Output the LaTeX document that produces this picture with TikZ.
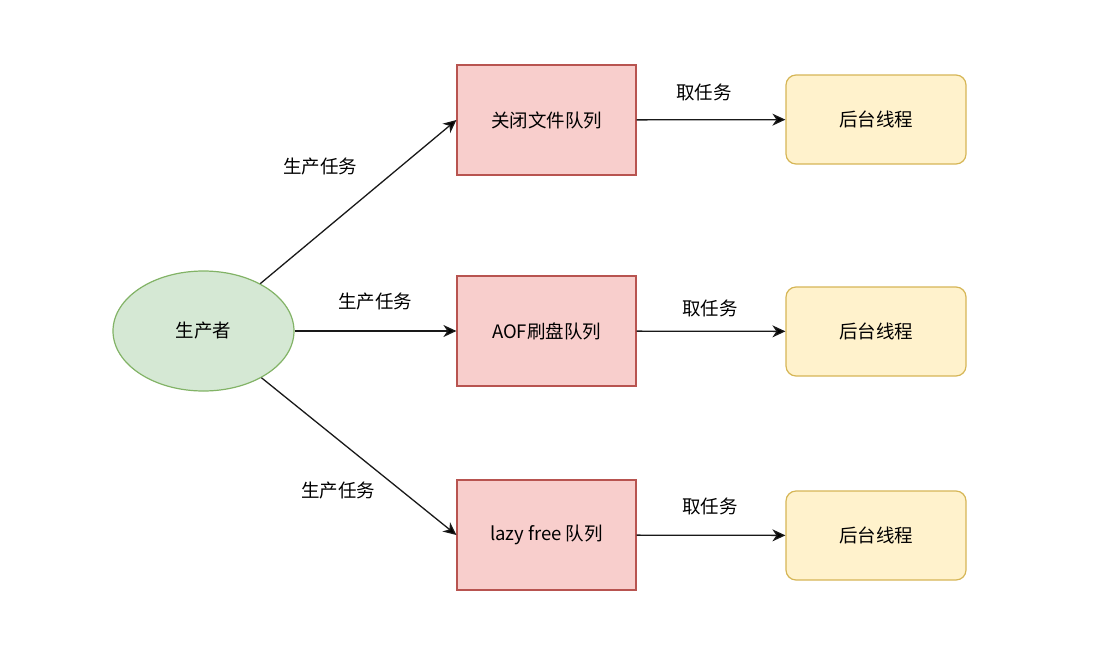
\documentclass[tikz,border=0pt]{standalone}
\usepackage{fontspec}
\setmainfont{Noto Sans CJK SC}
\usetikzlibrary{shapes}
\usetikzlibrary{positioning}
\usetikzlibrary{arrows.meta}
\definecolor{prodfill}{HTML}{D5E8D4}
\definecolor{proddraw}{HTML}{82B366}
\definecolor{queuefill}{HTML}{F8CECC}
\definecolor{queuedraw}{HTML}{B85450}
\definecolor{workfill}{HTML}{FFF2CC}
\definecolor{workdraw}{HTML}{D6B656}
\tikzset{
    producer/.style = {ellipse, draw=proddraw, fill=prodfill, line width=1.2pt, minimum width=181pt, minimum height=120pt, inner sep=0pt},
    queue/.style = {rectangle, draw=queuedraw, fill=queuefill, line width=1.2pt, minimum width=179pt, minimum height=110pt},
    worker/.style = {rectangle, rounded corners=10pt, draw=workdraw, fill=workfill, line width=1.2pt, minimum width=180pt, minimum height=89pt},
    edgen/.style = {-{Stealth[length=13pt,width=12pt,inset=4pt]}, line width=1.3pt, draw=black!90},
    elabel/.style = {font=\fontsize{18.5}{22}\selectfont},
    every picture/.style={font issue=\fontsize{18.5}{22}\selectfont},
    font issue/.style={execute at begin picture={#1}
  }
}

\begin{document}
\begin{tikzpicture}[x=1pt,y=-1pt]
\useasboundingbox (0,0) rectangle (1108,648);
%
\node[producer] at (203.5, 331) (prod) {生产者};
\node[queue] at (546.5, 120) (qclose) {关闭文件队列};
\node[queue] at (546.5, 331) (qaof) {AOF刷盘队列};
\node[queue] at (546.5, 535) (qlazy) {lazy free 队列};
\node[worker] at (876, 119.5) (wclose) {后台线程};
\node[worker] at (876, 331.5) (waof) {后台线程};
\node[worker] at (876, 535.5) (wlazy) {后台线程};
%
\draw[edgen] (prod) edge node {} (qclose.west);
\draw[edgen] (prod) edge node {} (qaof.west);
\draw[edgen] (prod) edge node {} (qlazy.west);
\draw[edgen] (qclose) edge node {} (wclose);
\draw[edgen] (qaof) edge node {} (waof);
\draw[edgen] (qlazy) edge node {} (wlazy);
%
\node[elabel] at (320, 167) (lclose) {生产任务};
\node[elabel] at (375, 302) (laof) {生产任务};
\node[elabel] at (338, 491) (llazy) {生产任务};
\node[elabel] at (704, 92) (tclose) {取任务};
\node[elabel] at (710, 308) (taof) {取任务};
\node[elabel] at (710, 506) (tlazy) {取任务};

\end{tikzpicture}
\end{document}
